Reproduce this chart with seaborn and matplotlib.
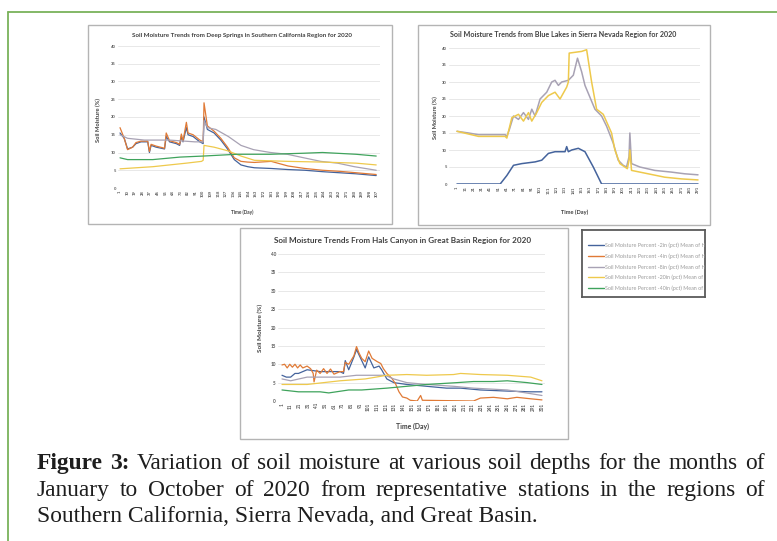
import matplotlib
matplotlib.use("Agg")
import matplotlib.pyplot as plt
from matplotlib.patches import Rectangle
from matplotlib.lines import Line2D
import pandas as pd
import seaborn as sns

W, H = 777, 541

DEPTHS = ["2in", "4in", "8in", "20in", "40in"]
LEGEND_LABELS = [f"Soil Moisture Percent -{d} (pct) Mean of Hourly Values" for d in DEPTHS]
PALETTE = {"2in": "#44639c", "4in": "#e07a36", "8in": "#a8a2b4",
           "20in": "#eec94c", "40in": "#3fa35c"}

# ---- Deep Springs, Southern California ----
DS_2IN_DAY = [1, 6, 10, 16, 20, 26, 34, 36, 38, 44, 54, 56, 60, 68, 72, 74, 76, 80, 82, 88,
              96, 100, 101, 105, 113, 121, 129, 137, 145, 153, 161, 181, 201, 221, 242, 262, 282, 306]
DS_2IN = [15.5, 14, 11, 11.5, 12.5, 13, 13, 10, 12, 11.5, 11, 14.5, 13, 12.5, 12, 14.5, 13, 17, 15, 14.5,
          13, 12.5, 20, 16.5, 15.5, 13.5, 11, 8, 6.5, 6, 5.7, 5.5, 5.2, 5, 4.6, 4.3, 4, 3.5]
DS_4IN_DAY = DS_2IN_DAY
DS_4IN = [17, 14, 10.8, 11.5, 12.8, 13.2, 13.2, 10.3, 12.3, 11.8, 11.2, 15.5, 13.3, 12.8, 12.3, 15.2, 13.3, 18.5, 15.5, 15,
          13.5, 13, 24, 17.5, 16, 14, 11.5, 8.5, 7.5, 7.3, 7.2, 7.5, 6.2, 5.5, 5, 4.7, 4.3, 3.8]
DS_8IN_DAY = [1, 10, 30, 60, 90, 100, 101, 105, 115, 130, 145, 160, 180, 200, 220, 240, 260, 280, 306]
DS_8IN = [15, 14, 13.5, 13.5, 13, 13, 19, 17, 16.5, 14.5, 12, 10.8, 10, 9.5, 8.5, 7.5, 7, 6, 5]
DS_20IN_DAY = [1, 40, 80, 98, 100, 101, 113, 129, 145, 161, 201, 242, 282, 306]
DS_20IN = [5.4, 6, 7, 7.5, 7.8, 12, 11.5, 10.5, 9, 7.8, 7.5, 7.3, 7, 6.5]
DS_40IN_DAY = [1, 10, 40, 72, 100, 140, 180, 220, 242, 282, 306]
DS_40IN = [8.5, 8, 8, 8.7, 9, 9.5, 9.5, 9.8, 10, 9.5, 9]

# ---- Blue Lakes, Sierra Nevada ----
BL_2IN_DAY = [1, 53, 61, 69, 79, 95, 103, 111, 119, 131, 133, 135, 139, 147, 155, 165, 175, 291]
BL_2IN = [0, 0, 2.5, 5.5, 6, 6.5, 7, 9, 9.5, 9.5, 11, 9.5, 10, 10.5, 9.5, 5, 0, 0]
BL_8IN_DAY = [1, 15, 27, 59, 61, 64, 69, 75, 81, 87, 91, 95, 101, 109, 115, 119, 123, 127, 135, 141,
              146, 151, 155, 167, 175, 181, 189, 195, 201, 205, 208, 209, 211, 221, 239, 259, 275, 291]
BL_8IN = [15.5, 15, 14.5, 14.5, 14, 16, 20, 19, 21, 19, 22, 20, 25, 27, 30, 30.5, 29, 30, 30.5, 32,
          37, 33, 29, 22, 20, 17, 12, 7, 5.5, 5, 8, 15, 6, 5, 4, 3.5, 3, 2.7]
BL_20IN_DAY = [1, 27, 59, 61, 67, 75, 81, 87, 91, 97, 103, 111, 119, 125, 133, 135, 136, 151, 157, 163,
               169, 177, 187, 191, 197, 206, 208, 209, 211, 231, 251, 271, 291]
BL_20IN = [15.5, 14, 14, 13.5, 19.5, 20.5, 18.5, 21, 18.5, 21, 24, 26, 27, 25, 28.5, 30, 38.5, 39, 39.5, 30,
           22, 20.5, 15, 10, 6, 4.5, 7, 10, 4, 3, 2, 1.5, 1.2]

# ---- Hals Canyon, Great Basin ----
HC_2IN_DAY = [1, 6, 11, 16, 20, 25, 30, 45, 68, 72, 74, 78, 84, 87, 93, 97, 101, 107, 113, 116,
              122, 130, 145, 168, 191, 207, 230, 261, 288, 301]
HC_2IN = [7, 6.5, 6.5, 7.5, 7.5, 8, 8.5, 8, 8, 7.5, 11, 8.5, 12, 14, 11, 9, 12, 9, 9.5, 8.5,
          6, 5, 4.5, 4, 3.5, 3.5, 3, 2.7, 2.5, 2.5]
HC_4IN_DAY = [1, 4, 7, 10, 13, 16, 19, 22, 25, 30, 34, 37, 38, 41, 45, 49, 53, 57, 61, 68,
              72, 74, 78, 84, 87, 90, 93, 97, 101, 105, 111, 115, 118, 122, 128, 132, 136, 140, 145, 149,
              157, 161, 163, 222, 230, 245, 261, 272, 288, 301]
HC_4IN = [9.8, 10, 9, 10, 9.2, 10, 9, 9.8, 9, 9.5, 8.8, 7.5, 5.2, 8.4, 7.5, 8.8, 7.5, 8.7, 7.3, 8,
          8, 10.5, 10, 12.3, 14.8, 13, 11.6, 10.7, 13.6, 11.6, 10.7, 10.2, 8.8, 7.5, 6.1, 4.7, 2.5, 1.1, 0.8, 0.2,
          0, 1.5, 0.2, 0, 0.8, 1, 0.6, 1, 0.6, 0.3]
HC_8IN_DAY = [1, 11, 30, 68, 87, 120, 130, 145, 168, 199, 222, 261, 288, 301]
HC_8IN = [6, 5.5, 6.5, 6.5, 7, 7, 6, 5, 4.5, 4, 3.5, 3, 2, 1.5]
HC_20IN_DAY = [1, 30, 68, 97, 122, 145, 168, 199, 207, 230, 261, 288, 301]
HC_20IN = [4.5, 4.5, 5.5, 6, 7, 7.2, 7, 7.2, 7.5, 7.2, 7, 6.5, 5.5]
HC_40IN_DAY = [1, 20, 45, 55, 78, 93, 122, 145, 168, 203, 222, 245, 261, 284, 301]
HC_40IN = [3, 2.5, 2.5, 2.2, 3, 3, 3.5, 4, 4.5, 5, 5.3, 5.3, 5.5, 5, 4.5]

TITLES = ["Soil Moisture Trends from Deep Springs in Southern California Region for 2020",
          "Soil Moisture Trends from Blue Lakes in Sierra Nevada Region for 2020",
          "Soil Moisture Trends From Hals Canyon in Great Basin Region for 2020"]

CAPTION_1 = ["Figure", "3:", "Variation", "of", "soil", "moisture", "at", "various", "soil",
             "depths", "for", "the", "months", "of"]
CAPTION_2 = ["January", "to", "October", "of", "2020", "from", "representative", "stations",
             "in", "the", "regions", "of"]
CAPTION_3 = "Southern California, Sierra Nevada, and Great Basin."


def frame(series):
    rows = []
    for depth, days, vals in series:
        rows += [{"day": d, "moisture": v, "depth": depth} for d, v in zip(days, vals)]
    return pd.DataFrame(rows)


PANELS = [
    dict(data=frame([("2in", DS_2IN_DAY, DS_2IN), ("4in", DS_4IN_DAY, DS_4IN),
                     ("8in", DS_8IN_DAY, DS_8IN), ("20in", DS_20IN_DAY, DS_20IN),
                     ("40in", DS_40IN_DAY, DS_40IN)]),
         box=(88, 25, 392, 224), axes=(118, 46, 380, 188), xlim=(-1.4, 310.5),
         ticks=list(range(1, 308, 9)), title=(242, 35, 222), ylab=(98, 120, 43),
         xlab=(242, 212, 23), tick_fs=3.0),
    dict(data=frame([("2in", BL_2IN_DAY, BL_2IN), ("8in", BL_8IN_DAY, BL_8IN),
                     ("20in", BL_20IN_DAY, BL_20IN)]),
         box=(418, 25, 710, 225), axes=(449, 48, 700, 184), xlim=(-8.6, 293.4),
         ticks=list(range(1, 292, 10)), title=(563, 35, 227), ylab=(435, 118, 42),
         xlab=(575, 212, 27), tick_fs=3.0),
    dict(data=frame([("2in", HC_2IN_DAY, HC_2IN), ("4in", HC_4IN_DAY, HC_4IN),
                     ("8in", HC_8IN_DAY, HC_8IN), ("20in", HC_20IN_DAY, HC_20IN),
                     ("40in", HC_40IN_DAY, HC_40IN)]),
         box=(240, 228, 568, 439), axes=(278, 254, 545, 401), xlim=(-3.6, 304.5),
         ticks=list(range(1, 302, 10)), title=(403, 241, 258), ylab=(260, 328, 48),
         xlab=(412, 426, 33), tick_fs=3.3),
]

sns.set_theme(style="white")
plt.rcParams["font.family"] = ["Lato", "DejaVu Sans"]

fig = plt.figure(figsize=(W / 100, H / 100), dpi=100)
fig.patch.set_facecolor("white")
renderer = fig.canvas.get_renderer()


def fx(x):
    return x / W


def fy(y):
    return 1 - y / H


def fit(txt, target_px, along="width"):
    ext = txt.get_window_extent(renderer)
    cur = ext.width if along == "width" else ext.height
    txt.set_fontsize(txt.get_fontsize() * target_px / cur)
    return txt


# page border
GREEN = "#7ab25a"
fig.add_artist(Line2D([fx(7.5), fx(7.5)], [fy(11.5), 0], transform=fig.transFigure, color=GREEN, lw=1.3))
fig.add_artist(Line2D([fx(7.5), 1], [fy(11.5), fy(11.5)], transform=fig.transFigure, color=GREEN, lw=1.3))

TEXT_GREY = "#595959"
for i, p in enumerate(PANELS):
    l, t, r, b = p["box"]
    fig.add_artist(Rectangle((fx(l), fy(b)), (r - l) / W, (b - t) / H, transform=fig.transFigure,
                             fill=False, edgecolor="#b4b4b4", lw=1.0))
    al, at, ar, ab = p["axes"]
    ax = fig.add_axes([fx(al), fy(ab), (ar - al) / W, (ab - at) / H])
    order = [d for d in DEPTHS if d in set(p["data"]["depth"])]
    sns.lineplot(data=p["data"], x="day", y="moisture", hue="depth", hue_order=order,
                 palette=PALETTE, lw=0.9 if i != 1 else 1.1, legend=False, ax=ax, sort=False)
    ax.set_xlim(*p["xlim"])
    ax.set_ylim(0, 40)
    ax.set_yticks(range(0, 41, 5))
    ax.set_xticks(p["ticks"])
    ax.set_xticklabels([str(v) for v in p["ticks"]], rotation=90)
    ax.tick_params(length=0, pad=1.5, labelsize=p["tick_fs"], colors=TEXT_GREY)
    for lab in ax.get_yticklabels() + ax.get_xticklabels():
        lab.set_fontweight("bold")
    ax.grid(axis="y", color="#e4e4e4", lw=0.6)
    ax.set_axisbelow(True)
    for s in ax.spines.values():
        s.set_visible(False)
    ax.axhline(0, color="#d2d2d2", lw=0.7, zorder=0.5)
    ax.set_xlabel("")
    ax.set_ylabel("")
    ax.patch.set_alpha(0)

    tx, ty, tw = p["title"]
    fit(fig.text(fx(tx), fy(ty), TITLES[i], ha="center", va="center", fontsize=6,
                 fontweight="bold", color="#404040"), tw)
    yx, yy, yw = p["ylab"]
    fit(fig.text(fx(yx), fy(yy), "Soil Moisture (%)", ha="center", va="center", rotation=90,
                 fontsize=4, fontweight="bold", color="#404040"), yw, along="height")
    xx, xy, xw = p["xlab"]
    fit(fig.text(fx(xx), fy(xy), "Time (Day)", ha="center", va="center", fontsize=4,
                 fontweight="bold", color="#404040"), xw)

# legend box shared by the three charts
lax = fig.add_axes([fx(582), fy(297), 123 / W, 67 / H])
lax.set_xlim(0, 1)
lax.set_ylim(0, 1)
lax.set_xticks([])
lax.set_yticks([])
for s in lax.spines.values():
    s.set_color("#5a5a5a")
    s.set_linewidth(1.3)
for k, (depth, label) in enumerate(zip(DEPTHS, LEGEND_LABELS)):
    yy = 1 - ([245, 256, 267, 277, 288][k] - 230) / 67
    lax.plot([6 / 123, 22 / 123], [yy, yy], color=PALETTE[depth], lw=1.0)
    lax.text(23 / 123, yy, label, fontsize=3.9, color="#9a9a9a", va="center", ha="left", clip_on=True)

# caption
SERIF = ["Liberation Serif", "DejaVu Serif"]
CAP_COLOR = "#1e1e1e"
probe = fig.text(0, 0, " ".join(CAPTION_1), fontsize=15, family=SERIF)
fit(probe, 708)
cap_size = probe.get_fontsize()
probe.remove()

fig.text(fx(37), fy(522), CAPTION_3, fontsize=cap_size, family=SERIF, color=CAP_COLOR, va="baseline")


def justified(words, y, bold_count=0, x0=37, x1=765):
    arts = [fig.text(0, fy(y), w, fontsize=cap_size, family=SERIF, color=CAP_COLOR, va="baseline",
                     fontweight="bold" if j < bold_count else "normal") for j, w in enumerate(words)]
    widths = [a.get_window_extent(renderer).width for a in arts]
    gap = (x1 - x0 - sum(widths)) / (len(words) - 1)
    x = x0
    for a, w in zip(arts, widths):
        a.set_x(fx(x))
        x += w + gap


justified(CAPTION_1, 469, bold_count=2)
justified(CAPTION_2, 496)

fig.savefig("out.png", dpi=100)
